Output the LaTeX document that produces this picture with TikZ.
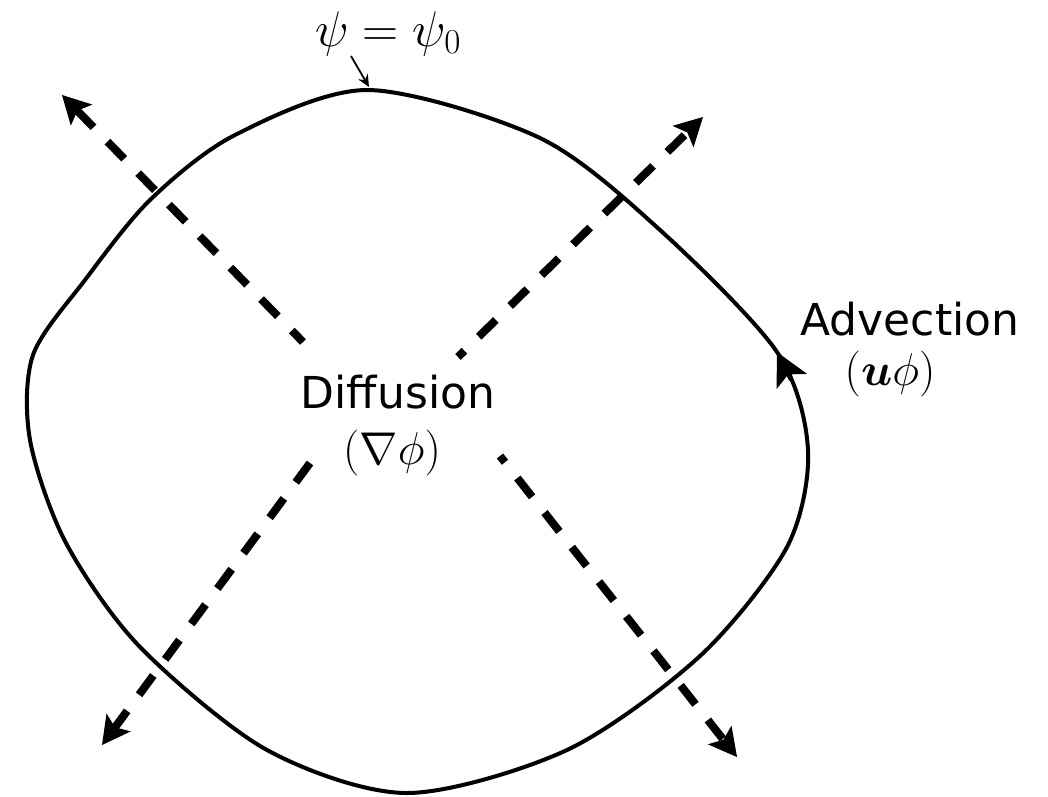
\RequirePackage{fix-cm}
\documentclass[tikz,border=0pt]{standalone}
\usepackage{amsmath,bm}
\usepackage{fontspec}
\newfontfamily\labelsans{DejaVu Sans}
\usetikzlibrary{arrows.meta,positioning}
\tikzset{
  contour/.style={line width=4pt, draw=black},
  flux/.style={line width=8pt, dash pattern=on 24pt off 20pt,
    -{Stealth[length=28pt,width=30pt,inset=6pt,line width=1pt]}},
  wordlbl/.style={font=\labelsans\fontsize{44}{50}\selectfont, inner sep=0pt, anchor=base},
  mathlbl/.style={font=\fontsize{46}{52}\selectfont, inner sep=0pt, anchor=base},
  pointer/.style={line width=1.8pt, -{Stealth[length=12pt,width=11pt]}},
}

\begin{document}
\begin{tikzpicture}[x=1pt,y=-1pt]
\useasboundingbox (0,0) rectangle (1048,796);

% closed streamline psi = psi_0
\draw[contour] plot[smooth cycle] coordinates {
  (777,352) (660,230) (540,138) (368,90) (235,135) (150,200) (85,280)
  (33,355) (30,440) (66,543) (140,647) (267,750) (407,793) (567,750)
  (700,656) (787,547) (808,450)};
\draw[contour, -{Stealth[length=33pt,width=34pt,inset=8pt,line width=1pt]}] (791,380) -- (777,352);

% diffusive fluxes
\coordinate (nwin) at (303,342);
\coordinate (nwout) at (62,95);
\coordinate (nein) at (458,357);
\coordinate (neout) at (703,117);
\coordinate (swin) at (310,463);
\coordinate (swout) at (102,745);
\coordinate (sein) at (500,456);
\coordinate (seout) at (737,757);
\draw[flux, dash phase=8pt] (nwin) -- (nwout);
\draw[flux, dash phase=15pt] (nein) -- (neout);
\draw[flux] (swin) -- (swout);
\draw[flux, dash phase=16pt] (sein) -- (seout);

% labels
\node[mathlbl, font=\fontsize{50}{56}\selectfont] (psilbl) at (388,46) {$\psi=\psi_0$};
\coordinate (psitail) at (351,56);
\coordinate (psitip) at (369,87);
\draw[pointer] (psitail) -- (psitip);

\node[wordlbl] (difftxt) at (398,408) {Diffusion};
\node[mathlbl] (diffmath) at (392,464) {$(\nabla\phi)$};
\node[wordlbl] (advtxt) at (910,335) {Advection};
\node[mathlbl] (advmath) at (890,385) {$(\bm{u}\phi)$};
\end{tikzpicture}
\end{document}
